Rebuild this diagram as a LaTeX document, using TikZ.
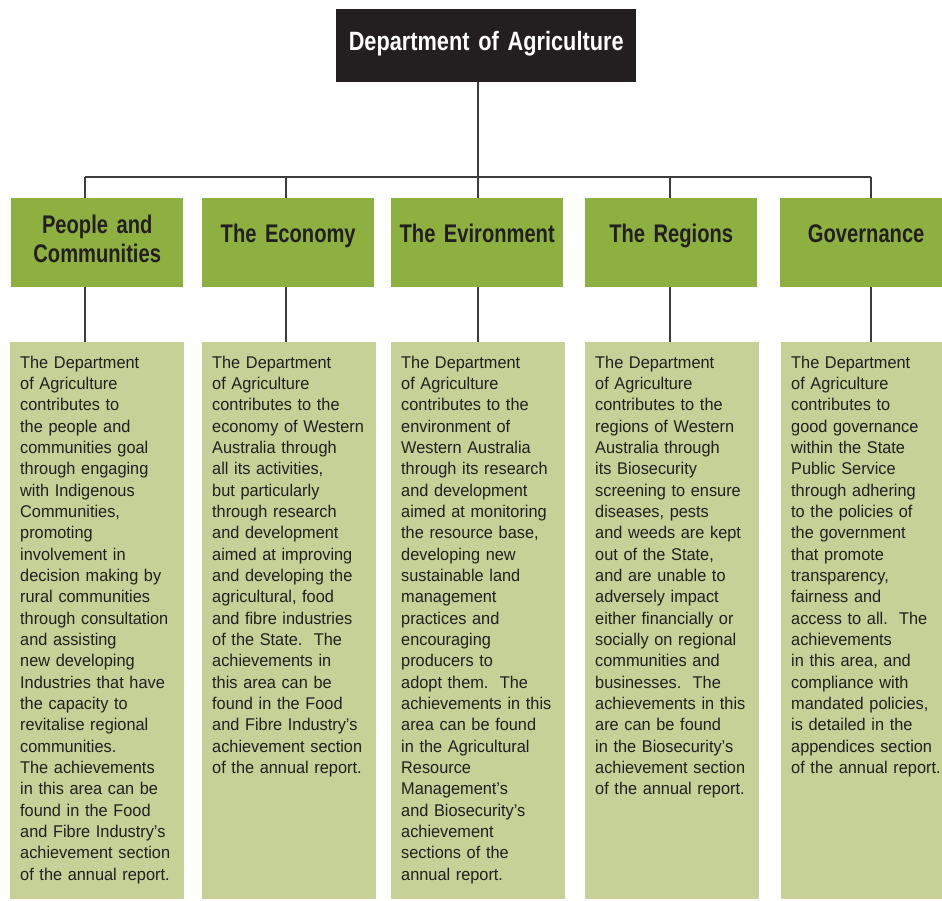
\documentclass[tikz,border=0pt]{standalone}
\usepackage{fontspec}
\setmainfont{Liberation Sans}[FakeStretch=0.96]
\newfontfamily\hdfont{Liberation Sans}[FakeStretch=0.79,WordSpace=0.8]
\newfontfamily\ttlfont{Liberation Sans}[FakeStretch=0.82,WordSpace=0.85]
\definecolor{inkblack}{HTML}{231F20}
\definecolor{leafgreen}{HTML}{8DB040}
\definecolor{palegreen}{HTML}{C5D197}
\definecolor{linegrey}{HTML}{3C3C3C}
\begin{document}
\begin{tikzpicture}[x=1pt,y=-1pt,
  conn/.style={draw=linegrey,line width=1.5pt},
  titlebox/.style={fill=inkblack,text=white,anchor=north west,inner sep=0pt,
    text width=300pt,align=center,text height=41pt,text depth=32pt,
    font=\ttlfont\bfseries\fontsize{26.5}{30}\selectfont},
  hdrbox/.style={fill=leafgreen,text=inkblack,anchor=north west,inner sep=0pt,
    text width=172pt,align=center,text height=44pt,text depth=45pt,
    font=\hdfont\bfseries\fontsize{25.5}{29}\selectfont},
  hdrtwo/.style={text height=35pt,text depth=54pt},
  bodybox/.style={fill=palegreen,text=inkblack,anchor=north west,
    inner xsep=10pt,inner ysep=0pt,text width=154pt,align=left,
    text height=26pt,text depth=531pt,
    font=\fontsize{17}{21.33}\selectfont}]
\useasboundingbox (0,0) rectangle (942,900);

% top of the hierarchy
\node[titlebox] (dept) at (336,9) {Department of Agriculture};

% the five goal headings
\node[hdrbox,hdrtwo] (hd1) at (11,198) {People and\\Communities};
\node[hdrbox] (hd2) at (202,198) {The Economy};
\node[hdrbox] (hd3) at (391,198) {The Evironment};
\node[hdrbox] (hd4) at (585,198) {The Regions};
\node[hdrbox] (hd5) at (780,198) {Governance};

% descriptions under each heading
\node[bodybox] (tx1) at (10,342) {The Department\\
of Agriculture\\
contributes to\\
the people and\\
communities goal\\
through engaging\\
with Indigenous\\
Communities,\\
promoting\\
involvement in\\
decision making by\\
rural communities\\
through consultation\\
and assisting\\
new developing\\
Industries that have\\
the capacity to\\
revitalise regional\\
communities.\\
The achievements\\
in this area can be\\
found in the Food\\
and Fibre Industry’s\\
achievement section\\
of the annual report.};

\node[bodybox] (tx2) at (202,342) {The Department\\
of Agriculture\\
contributes to the\\
economy of Western\\
Australia through\\
all its activities,\\
but particularly\\
through research\\
and development\\
aimed at improving\\
and developing the\\
agricultural, food\\
and fibre industries\\
of the State.\ \ The\\
achievements in\\
this area can be\\
found in the Food\\
and Fibre Industry’s\\
achievement section\\
of the annual report.};

\node[bodybox] (tx3) at (391,342) {The Department\\
of Agriculture\\
contributes to the\\
environment of\\
Western Australia\\
through its research\\
and development\\
aimed at monitoring\\
the resource base,\\
developing new\\
sustainable land\\
management\\
practices and\\
encouraging\\
producers to\\
adopt them.\ \ The\\
achievements in this\\
area can be found\\
in the Agricultural\\
Resource\\
Management’s\\
and Biosecurity’s\\
achievement\\
sections of the\\
annual report.};

\node[bodybox] (tx4) at (585,342) {The Department\\
of Agriculture\\
contributes to the\\
regions of Western\\
Australia through\\
its Biosecurity\\
screening to ensure\\
diseases, pests\\
and weeds are kept\\
out of the State,\\
and are unable to\\
adversely impact\\
either financially or\\
socially on regional\\
communities and\\
businesses.\ \ The\\
achievements in this\\
are can be found\\
in the Biosecurity’s\\
achievement section\\
of the annual report.};

\node[bodybox] (tx5) at (781,342) {The Department\\
of Agriculture\\
contributes to\\
good governance\\
within the State\\
Public Service\\
through adhering\\
to the policies of\\
the government\\
that promote\\
transparency,\\
fairness and\\
access to all.\ \ The\\
achievements\\
in this area, and\\
compliance with\\
mandated policies,\\
is detailed in the\\
appendices section\\
of the annual report.};

% connector bus
\coordinate (bus1) at (85,177);
\coordinate (bus2) at (286,177);
\coordinate (bus3) at (478,177);
\coordinate (bus4) at (670,177);
\coordinate (bus5) at (871,177);

\draw[conn] (bus1) -- (bus5);
\draw[conn] (dept.south -| bus3) -- (bus3 |- hd3.north);
\foreach \i in {1,2,4,5}{
  \draw[conn] (bus\i) -- (bus\i |- hd\i.north);
}
\foreach \i in {1,2,3,4,5}{
  \draw[conn] (hd\i.south -| bus\i) -- (tx\i.north -| bus\i);
}
\end{tikzpicture}
\end{document}
